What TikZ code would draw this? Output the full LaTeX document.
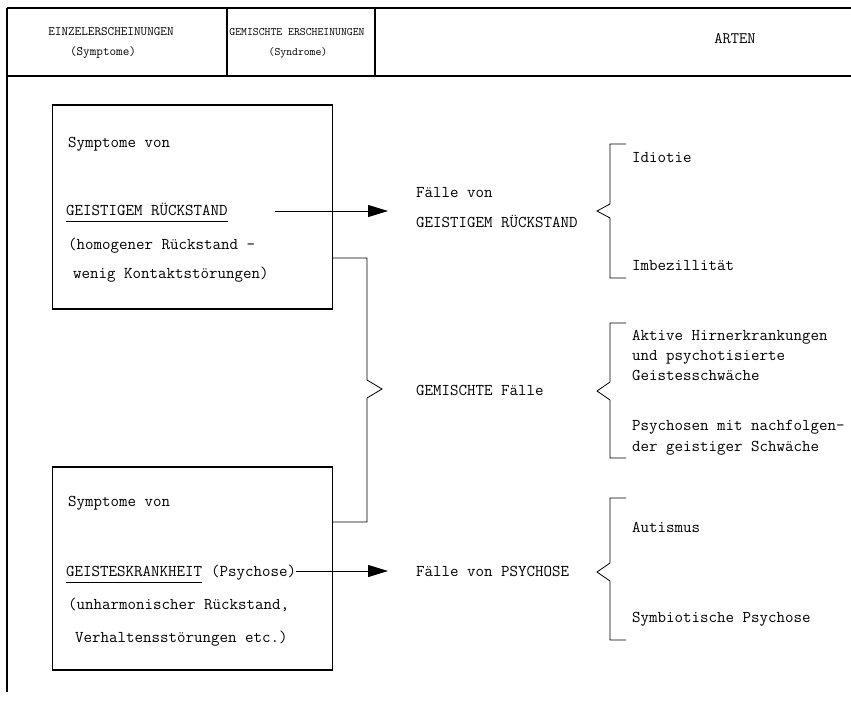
\documentclass[tikz,border=0pt]{standalone}
\usepackage{fontspec}
\usetikzlibrary{arrows.meta}
\begin{document}
\begin{tikzpicture}[x=1pt,y=-1pt,
  every node/.style={font=\fontsize{16.5}{20}\selectfont\ttfamily, inner sep=0pt},
  txt/.style={anchor=base west},
  hdra/.style={font=\fontsize{12.8}{15}\selectfont\ttfamily, anchor=base},
  hdrb/.style={font=\fontsize{11.4}{14}\selectfont\ttfamily, anchor=base},
  hdrc/.style={font=\fontsize{16}{18}\selectfont\ttfamily, anchor=base},
  frame/.style={line width=1.6pt},
  box/.style={draw, line width=1.3pt, minimum width=280pt, inner sep=0pt},
  conn/.style={line width=0.8pt},
  arr/.style={line width=0.9pt, -{Triangle[length=20pt,width=12pt]}},
  brk/.style={line width=0.8pt},
  uline/.style={line width=0.8pt}]
\useasboundingbox (0,0) rectangle (851,702);

% header frame
\draw[frame] (7,8) -- (851,8);
\draw[frame] (7,76) -- (851,76);
\draw[frame] (7,8) -- (7,692);
\draw[frame] (227,8) -- (227,76);
\draw[frame] (375,8) -- (375,76);

\node[hdra] (h1a) at (111,35) {EINZELERSCHEINUNGEN};
\node[hdra] (h1b) at (103,55) {(Symptome)};
\node[hdrb] (h2a) at (297,35) {GEMISCHTE ERSCHEINUNGEN};
\node[hdrb] (h2b) at (298,55) {(Syndrome)};
\node[hdrc] (h3) at (735,43) {ARTEN};

% boxes
\node[box, minimum height=204pt] (b1) at (192.5,207) {};
\node[box, minimum height=203pt] (b2) at (192.5,568.5) {};

% box 1 text
\node[txt] (s1) at (68,147) {Symptome von};
\node[txt] (g1) at (66,215) {GEISTIGEM RÜCKSTAND};
\draw[uline] ([yshift=-6pt]g1.base west) -- ([yshift=-6pt]g1.base east);
\node[txt] (h1) at (68,249) {(homogener Rückstand –};
\node[txt] (w1) at (73,278) {wenig Kontaktstörungen)};

% box 2 text
\node[txt] (s2) at (68,506) {Symptome von};
\node[txt] (g2) at (66,576) {GEISTESKRANKHEIT};
\draw[uline] ([yshift=-6pt]g2.base west) -- ([yshift=-6pt]g2.base east);
\node[txt] (g2p) at (g2.base east) {~(Psychose)};
\node[txt] (u2) at (68,609) {(unharmonischer Rückstand,};
\node[txt] (v2) at (75,642) {Verhaltensstörungen etc.)};

% middle column
\node[txt] (f1) at (416,197) {Fälle von};
\node[txt] (f1b) at (416,227) {GEISTIGEM RÜCKSTAND};
\node[txt] (gf) at (416,395) {GEMISCHTE Fälle};
\node[txt] (fp) at (416,576) {Fälle von PSYCHOSE};

% arrows
\coordinate (a1s) at (275,211);
\coordinate (a1e) at (388,211);
\draw[arr] (a1s) -- (a1e);
\coordinate (a2s) at (g2p.east |- 0,571);
\coordinate (a2e) at (388,571);
\draw[arr] (a2s) -- (a2e);

% mixed connector with bracket
\coordinate (m1) at (367,258);
\coordinate (m2) at (367,522);
\draw[conn] (b1.east |- m1) -- (m1) -- (367,380) -- (382,389) -- (367,398) -- (m2) -- (b2.east |- m2);

% right brackets
\draw[brk] (626,144) -- (610,144) -- (610,204) -- (597,211) -- (610,218) -- (610,278) -- (626,278);
\draw[brk] (626,323) -- (610,323) -- (610,382) -- (597,391) -- (610,400) -- (610,458) -- (626,458);
\draw[brk] (626,498) -- (610,498) -- (610,563) -- (597,572) -- (610,581) -- (610,640) -- (626,640);

% right column texts
\node[txt] (r1) at (632,162) {Idiotie};
\node[txt] (r2) at (632,270) {Imbezillität};
\node[txt] (r3) at (632,340) {Aktive Hirnerkrankungen};
\node[txt] (r4) at (632,360) {und psychotisierte};
\node[txt] (r5) at (632,380) {Geistesschwäche};
\node[txt] (r6) at (632,430) {Psychosen mit nachfolgen-};
\node[txt] (r7) at (632,451) {der geistiger Schwäche};
\node[txt] (r8) at (632,532) {Autismus};
\node[txt] (r9) at (632,622) {Symbiotische Psychose};
\end{tikzpicture}
\end{document}
